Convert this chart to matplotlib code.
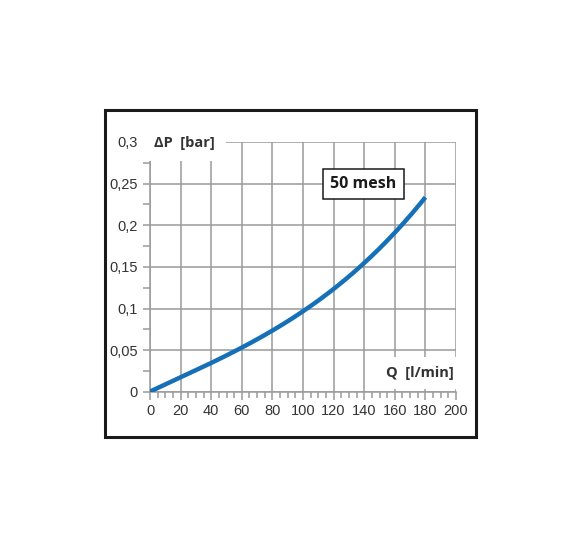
"""
pressure drop curve for a 50 mesh filter
"""

import numpy as np
import matplotlib.pyplot as plt
from matplotlib.ticker import MultipleLocator, FuncFormatter
from matplotlib.patches import Rectangle

# curve
flow = [0, 20, 40, 60, 80, 100, 120, 140, 160, 180]
dp = [0.0, 0.018, 0.035, 0.054, 0.074, 0.096, 0.121, 0.156, 0.194, 0.232]

x_ticks = [0, 20, 40, 60, 80, 100, 120, 140, 160, 180, 200]
y_ticks = [0, 0.05, 0.1, 0.15, 0.2, 0.25, 0.3]

GRID = '#9a9a9a'
TXT = '#333333'
BLUE = '#1570b8'

plt.rcParams['font.family'] = ['Liberation Sans Narrow', 'Liberation Sans', 'DejaVu Sans']

fig = plt.figure(figsize=(5.81, 5.49), dpi=100)
fig.patches.append(Rectangle((0.1807, 0.204), 0.6386, 0.5956, transform=fig.transFigure,
                             fill=False, edgecolor='#1a1a1a', linewidth=2.2))

ax = fig.add_axes([0.2582, 0.2860, 0.5267, 0.4554])

# smooth the curve a bit between read points
xs = np.linspace(flow[0], flow[-1], 200)
coef = np.polyfit(flow, dp, 3)
ys = np.polyval(coef, xs)
ys[0] = 0
ax.plot(xs, ys, color=BLUE, linewidth=3.2, solid_capstyle='butt', zorder=3)

ax.set_xlim(0, 200)
ax.set_ylim(0, 0.3)
ax.set_xticks(x_ticks)
ax.set_yticks(y_ticks)
ax.xaxis.set_minor_locator(MultipleLocator(5))
ax.yaxis.set_minor_locator(MultipleLocator(0.025))
ax.yaxis.set_major_formatter(FuncFormatter(lambda v, p: ('%g' % round(v, 3)).replace('.', ',')))

ax.grid(True, which='major', color=GRID, linewidth=1.1)
for s in ['top', 'right']:
    ax.spines[s].set_visible(False)
for s in ['left', 'bottom']:
    ax.spines[s].set_color(GRID)
    ax.spines[s].set_linewidth(1.1)
ax.tick_params(which='both', color=GRID, labelcolor=TXT, labelsize=10.5, width=1.1)
ax.tick_params(axis='y', which='major', length=5, pad=4)
ax.tick_params(axis='y', which='minor', length=5)
ax.tick_params(axis='x', which='major', length=6, pad=3)
ax.tick_params(axis='x', which='minor', length=4)

ax.text(22.5, 0.2985, u'\u0394P  [bar]', ha='center', va='center', fontsize=10.5,
        fontweight='bold', color=TXT, family=['Open Sans', 'DejaVu Sans'], zorder=5,
        clip_on=False,
        bbox=dict(boxstyle='square,pad=0.75', facecolor='white', edgecolor='none'))
ax.text(176.5, 0.0225, 'Q  [l/min]', ha='center', va='center', fontsize=10.5,
        fontweight='bold', color=TXT, family=['Open Sans', 'DejaVu Sans'], zorder=5,
        bbox=dict(boxstyle='square,pad=0.6', facecolor='white', edgecolor='none'))
ax.text(139.5, 0.2495, '50 mesh', ha='center', va='center', fontsize=11.5,
        fontweight='bold', color='#1a1a1a', family=['Open Sans', 'DejaVu Sans'], zorder=5,
        bbox=dict(boxstyle='square,pad=0.45', facecolor='white', edgecolor='#1a1a1a', linewidth=1.1))

fig.savefig('out.png', dpi=100)
